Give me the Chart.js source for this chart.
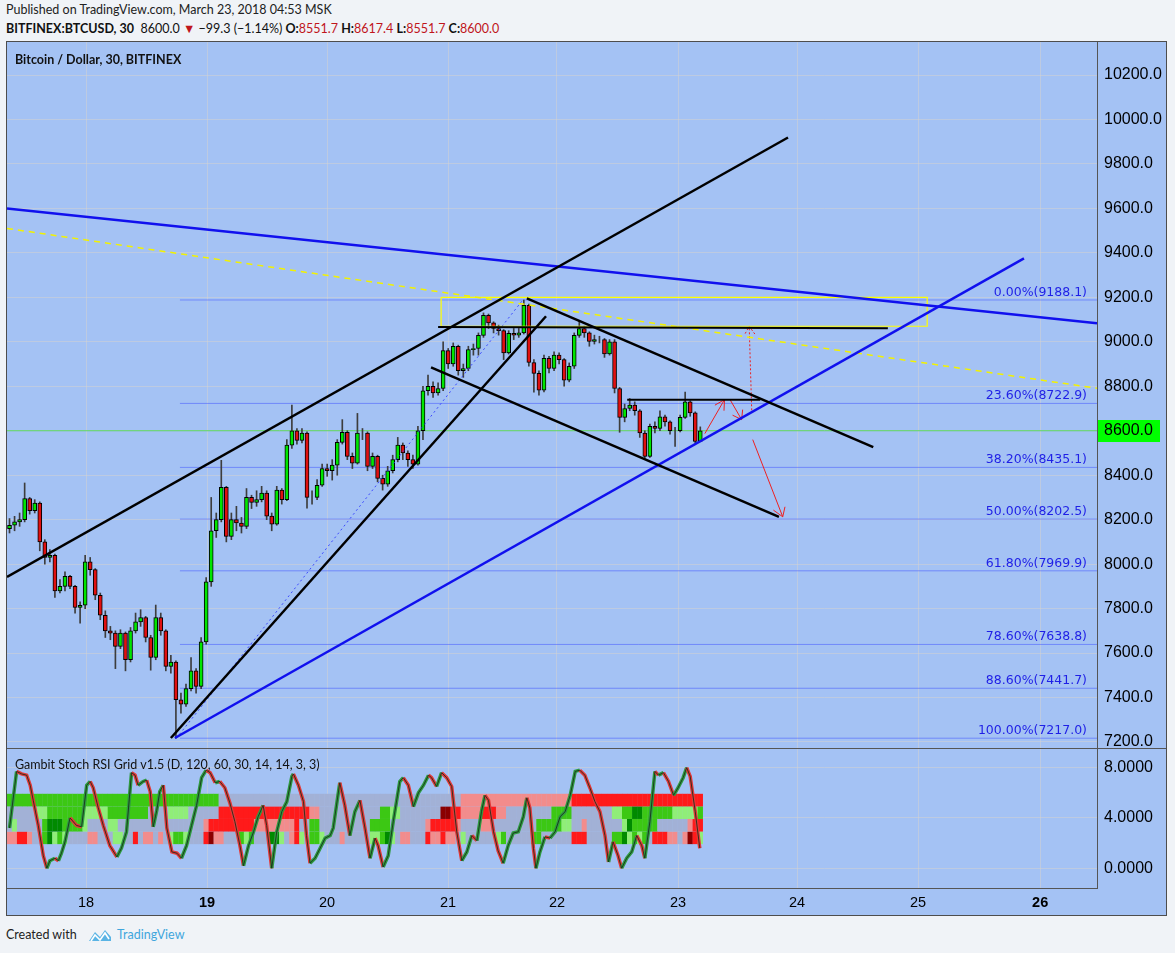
<!DOCTYPE html>
<html><head><meta charset="utf-8">
<script src="https://cdn.jsdelivr.net/npm/chart.js@4.4.1/dist/chart.umd.min.js"></script>
<style>
html,body{margin:0;padding:0;background:#f0f3f7;}
body{width:1175px;height:953px;position:relative;overflow:hidden;font-family:Lato,'Liberation Sans',sans-serif;}
.t{position:absolute;white-space:nowrap;line-height:1;z-index:5;}
#box{position:absolute;left:6px;top:41px;width:1161px;height:875px;box-sizing:border-box;border:1px solid #4d4d4d;background:#a4c2f4;}
#box canvas{position:absolute;left:0;}
.ln{position:absolute;background:#555;z-index:4;}
.r{color:#c0151b;}
</style></head><body>
<div class="t" style="left:6px;top:4px;font-size:12.5px;color:#222">Published on TradingView.com, March 23, 2018 04:53 MSK</div>
<div class="t" style="left:6px;top:23px;font-size:12.5px;color:#111"><b>BITFINEX:BTCUSD, 30</b>&nbsp; 8600.0 <span class="r">&#9660;</span> &minus;99.3 (&minus;1.14%) <b>O:</b><span class="r">8551.7</span> <b>H:</b><span class="r">8617.4</span> <b>L:</b><span class="r">8551.7</span> <b>C:</b><span class="r">8600.0</span></div>
<div id="box">
  <canvas id="main" width="1159" height="706" style="top:0"></canvas>
  <canvas id="stoch" width="1159" height="166" style="top:707px"></canvas>
</div>
<div class="ln" style="left:7px;top:748px;width:1159px;height:1px"></div>
<div class="ln" style="left:1097px;top:42px;width:1px;height:846px"></div>
<div class="ln" style="left:7px;top:888px;width:1091px;height:1px"></div>
<div class="t" style="left:15px;top:54px;font-size:12.5px;font-weight:bold;color:#111">Bitcoin / Dollar, 30, BITFINEX</div>
<div class="t" style="left:15px;top:759px;font-size:12.5px;color:#111">Gambit Stoch RSI Grid v1.5 (D, 120, 60, 30, 14, 14, 3, 3)</div>
<div class="t" style="left:6px;top:929px;font-size:12.5px;color:#222">Created with</div>
<svg style="position:absolute;left:87px;top:927px;z-index:5" width="26" height="16" viewBox="0 0 26 16"><path d="M2 14 L8 5 L13 10 L18 3 L24 10 L24 14 Z" fill="#5ab4e5"/><path d="M4 14 L8 8 L13 13 L18 6 L22 12" stroke="#fff" stroke-width="1.6" fill="none"/></svg>
<div class="t" style="left:117px;top:929px;font-size:12.5px;color:#3fa6dd">TradingView</div>
<script>
// ---------------- data ----------------
const dayLabels = ['18','19','20','21','22','23','24','25','26'];
const dayPos = [15.67, 39.67, 63.47, 87.47, 109.08, 133.08, 156.7, 180.7, 204.9]; // hours from series start
const priceTicks = [7200,7400,7600,7800,8000,8200,8400,8600,8800,9000,9200,9400,9600,9800,10000,10200];
const stochTicks = [0, 4, 8];
const opens = [8160,8175,8190,8200,8295,8240,8275,8100,8030,8040,
 7880,7900,7945,7900,7805,7815,8010,7975,7860,7770,
 7700,7690,7630,7690,7570,7700,7740,7760,7670,7580,
 7760,7700,7540,7560,7390,7370,7440,7520,7450,7650,
 7920,8150,8200,8346,8125,8200,8185,8170,8300,8278,
 8290,8320,8216,8180,8333,8290,8535,8600,8557,8590,
 8300,8300,8355,8430,8420,8445,8548,8593,8485,8454,
 8590,8590,8440,8485,8386,8360,8420,8470,8535,8500,
 8470,8450,8600,8780,8800,8770,8790,8960,8900,8980,
 8870,8880,8965,8970,9029,9119,9085,9060,9050,8950,
 9038,9030,9040,9164,8907,8858,8782,8926,8880,8940,
 8920,8827,8890,9029,9060,9040,9002,9010,9010,8945,
 9000,8790,8660,8700,8715,8690,8590,8485,8620,8610,
 8662,8640,8600,8600,8660,8730,8680,8551.7];
const closes = [8175,8190,8200,8295,8240,8275,8100,8030,8040,7880,
 7900,7945,7900,7805,7815,8010,7975,7860,7770,7700,
 7690,7630,7690,7570,7700,7740,7760,7670,7580,7760,
 7700,7540,7560,7390,7370,7440,7520,7450,7650,7920,
 8150,8200,8346,8125,8200,8185,8170,8300,8278,8290,
 8320,8216,8180,8333,8290,8535,8600,8557,8590,8300,
 8300,8355,8430,8420,8445,8548,8593,8485,8454,8590,
 8590,8440,8485,8386,8360,8420,8470,8535,8500,8470,
 8450,8600,8780,8800,8770,8790,8960,8900,8980,8870,
 8880,8965,8970,9029,9119,9085,9060,9050,8950,9038,
 9030,9040,9164,8907,8858,8782,8926,8880,8940,8920,
 8827,8890,9029,9060,9040,9002,9010,9010,8945,9000,
 8790,8660,8700,8715,8690,8590,8485,8620,8610,8662,
 8640,8600,8600,8660,8730,8680,8551.7,8600];
const highs = [8205,8215,8230,8365,8300,8290,8280,8110,8065,8045,
 7930,7965,7950,7905,7830,8040,8030,7980,7870,7790,
 7720,7700,7705,7695,7715,7780,7795,7765,7680,7816,
 7780,7705,7590,7565,7420,7460,7580,7530,7670,7940,
 8300,8230,8467,8350,8230,8260,8210,8340,8310,8330,
 8350,8330,8230,8350,8340,8560,8715,8610,8610,8595,
 8330,8380,8450,8450,8470,8560,8650,8600,8500,8678,
 8610,8595,8500,8490,8400,8440,8490,8570,8545,8510,
 8490,8620,8800,8850,8820,8815,9000,8970,8995,8985,
 8900,8980,8990,9040,9130,9125,9090,9075,9055,9050,
 9060,9060,9188,9170,8920,8870,8940,8935,8955,8950,
 8925,8905,9040,9096,9070,9045,9030,9025,9015,9010,
 9010,8795,8720,8745,8730,8695,8600,8630,8640,8690,
 8670,8645,8615,8670,8774,8735,8685,8617.4];
const lows = [8140,8150,8170,8190,8225,8230,8060,8000,8010,7850,
 7870,7880,7890,7780,7735,7800,7950,7840,7750,7670,
 7660,7530,7620,7520,7560,7690,7720,7650,7523,7570,
 7680,7520,7510,7217,7330,7360,7430,7420,7440,7640,
 7900,8120,8190,8100,8110,8150,8140,8160,8250,8260,
 8280,8200,8150,8175,8270,8285,8520,8540,8545,8252,
 8270,8290,8350,8395,8378,8400,8540,8470,8430,8450,
 8560,8420,8430,8370,8333,8350,8410,8460,8470,8440,
 8430,8445,8560,8760,8750,8760,8780,8880,8890,8850,
 8840,8870,8940,8940,9020,9060,9040,9030,8920,8945,
 9010,9020,9035,8890,8773,8760,8775,8860,8870,8900,
 8800,8820,8880,9020,9020,8980,8990,8995,8930,8940,
 8770,8593,8640,8690,8670,8570,8476,8480,8590,8600,
 8620,8585,8530,8595,8655,8665,8545,8551.7];
const lastPrice = 8600.0;

// Fibonacci retracement
const fibPct = ['0.00%','23.60%','38.20%','50.00%','61.80%','78.60%','88.60%','100.00%'];
const fibVal = [9188.1, 8722.9, 8435.1, 8202.5, 7969.9, 7638.8, 7441.7, 7217.0];
const fibStartHour = 34.3;

// drawn trend lines: [hour, price] pairs
const upperChannel = [[0, 7942], [154.9, 9919]];
const steepSupport = [[32.5, 7218], [106.9, 9115]];
const descUpper = [[103.1, 9195], [171.8, 8526]];
const descLower = [[84.1, 8885], [153.1, 8213]];
const resistLong = [[85.5, 9067], [174.7, 9061]];
const resistShort = [[123.0, 8739], [149.4, 8739]];
const blueDesc = [[0, 9600], [216.18, 9083]];
const blueAsc = [[33.3, 7218], [201.7, 9375]];
const yellowDash = [[0, 9510], [216.18, 8791]];
const yellowRect = [[86.1, 9200], [182.5, 9200], [182.5, 9070], [86.1, 9070], [86.1, 9200]];
const fibDiag = [[33.6, 7217], [102.3, 9188]];
const arrow1 = [[138.4, 8587], [142.3, 8740]];
const arrow1Head = [[140.4, 8715], [142.3, 8740], [142.2, 8690]];
const arrow2 = [[143.4, 8740], [145.7, 8650]];
const arrow2Head = [[143.9, 8670], [145.7, 8650], [145.9, 8695]];
const arrowUp = [[147.7, 8692], [147.2, 9070]];
const arrowUpHead = [[146.4, 9037], [147.2, 9070], [148.35, 9034]];
const arrow3 = [[147.9, 8560], [153.85, 8213]];
const arrow3Head = [[152.0, 8243], [153.85, 8213], [154.3, 8258]];

// Stoch RSI line (hour, value)
const stochH = [0.5,1.9,2.9,3.9,4.6,5.2,6.2,7.2,7.9,8.5,
 9.5,10.2,10.8,11.5,12.5,13.8,14.8,15.8,16.5,17.1,
 18.1,19.1,20.4,21.8,22.7,23.7,24.7,25.4,26.0,27.0,
 27.7,28.4,29.0,29.7,30.3,31.0,31.7,32.7,33.7,34.6,
 35.6,36.6,37.6,38.6,39.5,40.3,41.3,42.2,43.2,44.2,
 45.2,46.2,46.9,47.9,48.9,49.8,50.8,51.5,52.5,53.5,
 54.5,55.5,56.5,56.8,57.8,58.8,59.4,60.1,61.1,62.1,
 63.1,64.1,64.7,66.0,67.0,68.0,69.0,70.0,71.0,72.0,
 73.0,73.6,74.6,75.6,76.6,77.9,78.6,79.6,80.6,81.6,
 82.6,83.6,84.2,85.2,86.2,87.2,88.2,89.2,90.2,91.2,
 92.2,93.2,94.1,94.8,95.5,96.5,97.4,98.4,99.4,100.4,
 101.4,102.4,103.1,103.7,104.4,104.9,105.7,106.7,107.7,108.7,
 109.7,110.7,111.7,112.7,113.6,114.6,115.6,116.6,117.6,118.6,
 119.3,120.2,121.2,121.9,122.9,123.9,124.9,125.9,126.5,127.5,
 128.5,129.2,130.2,131.2,132.2,133.1,134.1,134.8,135.5,136.5,
 137.4];
const stochK = [3.2,7.7,7.5,7.4,6.6,5.4,3.4,1.0,0.0,0.6,
 0.8,0.6,1.2,2.1,4.0,3.4,3.3,6.6,6.9,6.4,
 4.8,3.4,1.8,0.9,1.6,2.9,7.6,7.4,6.6,6.9,
 7.0,6.1,3.3,4.6,6.1,6.6,3.2,1.3,1.2,0.8,
 1.8,3.4,5.0,7.2,7.8,7.6,6.8,6.9,6.4,5.2,
 3.7,1.8,0.2,1.8,2.9,4.1,5.0,3.4,0.0,2.9,
 4.5,5.3,7.3,7.5,6.6,5.3,2.6,0.4,0.8,1.6,
 2.4,2.6,3.2,6.8,5.0,2.6,4.5,5.4,3.2,0.8,
 2.4,1.8,0.1,1.0,3.7,6.9,7.2,6.6,4.9,6.0,
 6.6,7.4,7.2,6.5,7.6,7.2,6.5,2.9,0.6,1.3,
 2.6,2.2,4.5,5.8,5.4,2.9,1.4,0.4,1.8,2.8,
 2.9,4.1,5.6,4.8,1.6,0.0,1.3,2.5,2.4,2.9,
 4.1,4.5,5.8,7.7,7.8,7.4,6.4,5.3,4.5,2.6,
 0.5,2.1,1.0,0.0,0.8,1.3,2.6,1.8,0.8,3.7,
 7.7,7.4,7.6,6.9,5.8,6.4,7.2,8.0,7.3,4.5,
 1.6];

// Stoch grid rows: value band and run-length encoded state per hourly bar
const gridBands = [[4.92, 5.92], [3.92, 4.92], [2.92, 3.92], [1.92, 2.92]];
const gridRuns = [
 "G42 N48 P22 R26",
 "N6 L2 G7 L5 G8 N4 L4 N6 R18 P2 N12 G2 L2 N8 D2 R2 P4 R3 P2 N9 G4 N8 L2 G2 K2 G6 L5 G1",
 "N1 L1 N5 G1 K3 G4 L1 N4 L2 N17 P1 R9 P8 R1 N2 G2 N10 G4 N7 P1 R5 P1 N4 P2 N9 G5 L2 N2 P1 N7 L1 K1 G5 N6 P1 R2",
 "P2 R2 P1 N2 G1 K1 L1 G1 L1 N4 P2 N3 L2 N2 R1 N1 P2 N1 P1 N1 L1 G2 L1 N3 R1 D1 P2 N3 G1 L1 G1 N3 K2 L1 N1 P1 R1 L1 N1 G2 L1 N3 P1 N5 L2 G1 K1 L1 N1 P2 N3 R1 P2 R1 P2 N1 L1 N6 L1 G1 N5 G2 N6 R3 N5 G2 K1 L1 G1 L1 G1 N1 R3 P2 N1 P1 D1 R1 L1"
];

// ---------------- styles ----------------
const X_MAX = 216.18;
const P_MIN = 7173, P_MAX = 10348.5;
const S_MIN = -1.566, S_MAX = 9.48;
const GRID = 'rgba(210,210,210,0.55)';
const UP = '#00e600', DOWN = '#e01010';
const CELL = {G:'#3cc814', L:'#90ee78', K:'#008a00', R:'#ff1a1a', P:'#f28c8c', D:'#8b0000', N:'#a2b1d6'};
const boldDays = ['19','26'];

Chart.defaults.font.family = "'Liberation Sans', Arial, sans-serif";
Chart.defaults.animation = false;

const hours = closes.map((_, i) => i + 0.5);

function seg(pts, color, width, dash, order) {
  return {type:'line', data: pts.map(p => ({x:p[0], y:p[1]})), borderColor: color, borderWidth: width,
    borderDash: dash || [], pointRadius: 0, fill: false, tension: 0, order: order == null ? 1 : order};
}

function xScale(showLabels) {
  return {
    type:'linear', min:0, max:X_MAX, offset:false,
    afterBuildTicks: s => { s.ticks = dayPos.map(v => ({value: v})); },
    ticks:{display: showLabels, autoSkip:false, maxRotation:0, padding:6, color:'#000',
      callback: (v, i) => dayLabels[i],
      font: c => ({size:14.5, weight: boldDays.includes(dayLabels[c.index]) ? 'bold' : 'normal'})},
    grid:{color: GRID, drawTicks:false, offset:false},
    border:{display:false},
    afterFit: s => { s.height = showLabels ? 27 : 0; s.paddingLeft = 0; s.paddingRight = 0; }
  };
}

function yScale(min, max, tickVals, decimals) {
  return {type:'linear', position:'right', min, max,
    afterBuildTicks: s => { s.ticks = tickVals.map(v => ({value: v})); },
    ticks:{autoSkip:false, padding:7, color:'#000', font:{size:16}, callback: v => Number(v).toFixed(decimals)},
    grid:{color: GRID, drawTicks:false}, border:{display:false},
    afterFit: s => { s.width = 69; s.paddingTop = 0; s.paddingBottom = 0; }};
}

const fibLabelPlugin = {
  id:'fibLabels',
  afterDatasetsDraw(chart) {
    const c = chart.ctx, y = chart.scales.y, a = chart.chartArea;
    c.save();
    c.font = '12.5px "DejaVu Sans"'; c.fillStyle = '#1f1fe6'; c.textAlign = 'right'; c.textBaseline = 'bottom';
    fibVal.forEach((v, i) => c.fillText(fibPct[i] + '(' + v.toFixed(1) + ')', a.right - 10, y.getPixelForValue(v) - 1));
    c.restore();
  },
  afterDraw(chart) {
    const c = chart.ctx, y = chart.scales.y, a = chart.chartArea;
    const py = y.getPixelForValue(lastPrice);
    c.save();
    c.fillStyle = '#00ff00'; c.fillRect(a.right, Math.round(py) - 11, 63, 22);
    c.fillStyle = '#000'; c.font = '16px "Liberation Sans"'; c.textAlign = 'left'; c.textBaseline = 'middle';
    c.fillText(lastPrice.toFixed(1), a.right + 7, py);
    c.restore();
  }
};

const mainDatasets = [
  seg(upperChannel, '#000', 2.5), seg(steepSupport, '#000', 2.5), seg(descUpper, '#000', 2.5), seg(descLower, '#000', 2.5),
  seg(resistLong, '#000', 2), seg(resistShort, '#000', 2),
  seg(blueDesc, '#1010ee', 2.5), seg(blueAsc, '#1010ee', 2.5),
  seg(yellowDash, '#f2f200', 1.5, [6, 5]), seg(yellowRect, '#ffff00', 1.2),
  seg(fibDiag, 'rgba(50,60,255,0.9)', 1, [2, 3]),
  seg(arrow1, '#ee2020', 1), seg(arrow1Head, '#ee2020', 1),
  seg(arrow2, '#ee2020', 1), seg(arrow2Head, '#ee2020', 1),
  seg(arrowUp, '#ee2020', 1, [2, 2]), seg(arrowUpHead, '#ee2020', 1, [2, 2]),
  seg(arrow3, '#ee2020', 1), seg(arrow3Head, '#ee2020', 1),
  {type:'bar', data: hours.map((h, i) => ({x:h, y:[opens[i], closes[i]]})),
   backgroundColor: hours.map((h, i) => closes[i] >= opens[i] ? UP : DOWN),
   borderColor:'#000', borderWidth:1, borderSkipped:false, barThickness:4, grouped:false, order:5},
  {type:'bar', data: hours.map((h, i) => ({x:h, y:[lows[i], highs[i]]})),
   backgroundColor:'#3d3d3d', barThickness:1, grouped:false, order:6},
  ...fibVal.map(v => seg([[fibStartHour, v], [X_MAX, v]], 'rgba(70,90,255,0.55)', 1, null, 8)),
  seg([[0, lastPrice], [X_MAX, lastPrice]], 'rgba(80,215,80,0.9)', 1, null, 9)
];

new Chart(document.getElementById('main'), {
  type:'line',
  data:{datasets: mainDatasets},
  options:{
    responsive:false, animation:false, events:[],
    layout:{padding:0},
    plugins:{legend:{display:false}, tooltip:{enabled:false}},
    scales:{ x: xScale(false), y: yScale(P_MIN, P_MAX, priceTicks, 1) }
  },
  plugins:[fibLabelPlugin]
});

// expand run-length rows
function expandRuns(str) {
  const out = [];
  str.split(' ').forEach(tok => { const code = tok[0], n = parseInt(tok.slice(1)); for (let k = 0; k < n; k++) out.push(code); });
  return out;
}
const rowDatasets = gridRuns.map((r, ri) => {
  const codes = expandRuns(r);
  return {type:'bar', data: codes.map((c, i) => ({x: hours[i], y: gridBands[ri]})),
    backgroundColor: codes.map(c => CELL[c]), borderWidth:0, grouped:false,
    categoryPercentage:1, barPercentage:1.06, order:10};
});

const kPts = stochH.map((h, i) => ({x:h, y:stochK[i]}));
new Chart(document.getElementById('stoch'), {
  type:'line',
  data:{datasets:[
    {type:'line', data:kPts, borderColor:'rgba(25,45,25,0.85)', borderWidth:1, pointRadius:0, tension:0, order:0},
    {type:'line', data:kPts, borderWidth:3.5, pointRadius:0, tension:0, order:1,
     borderColor:'#2e9a40',
     segment:{borderColor: c => c.p1.parsed.y >= c.p0.parsed.y ? '#2e9a40' : '#e23838'}},
    ...rowDatasets
  ]},
  options:{
    responsive:false, animation:false, events:[],
    layout:{padding:0},
    plugins:{legend:{display:false}, tooltip:{enabled:false}},
    scales:{ x: xScale(true), y: yScale(S_MIN, S_MAX, stochTicks, 4) }
  }
});
</script>
</body></html>
